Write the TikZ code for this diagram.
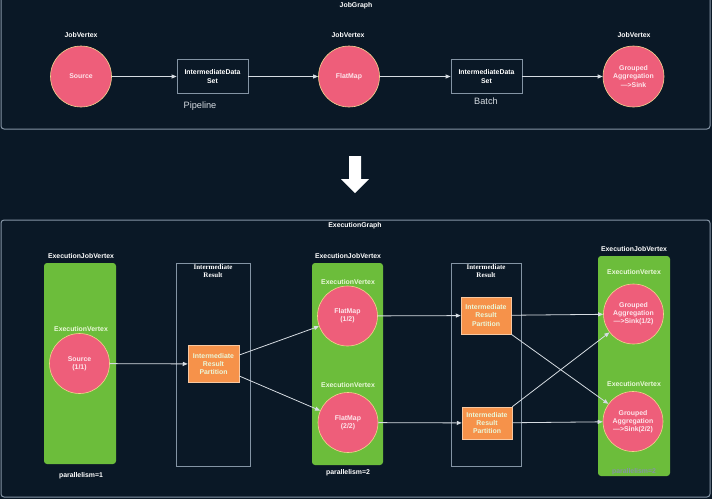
\documentclass[tikz,border=0pt]{standalone}
\usepackage{fontspec}
\setmainfont{Liberation Sans}
\newfontfamily\irfont{Liberation Serif}
\usetikzlibrary{arrows.meta,positioning,calc}
\definecolor{bgc}{HTML}{0A1826}
\definecolor{framec}{HTML}{8494A4}
\definecolor{linec}{HTML}{D6DCE2}
\definecolor{vtxc}{HTML}{EE5E7A}
\definecolor{rimc}{HTML}{F3D48E}
\definecolor{vtxtxt}{HTML}{FDE6EC}
\definecolor{ejvc}{HTML}{6CBD3B}
\definecolor{ejvtxt}{HTML}{EAF8DA}
\definecolor{partc}{HTML}{F6924A}
\definecolor{partrim}{HTML}{F9C8A0}
\newcommand{\lblfont}{\fontsize{6.9}{8.2}\selectfont\bfseries}
\newcommand{\plainfont}{\fontsize{9.2}{11}\selectfont}

\begin{document}
\begin{tikzpicture}[x=1pt,y=-1pt,
  font=\lblfont,
  >={Triangle[length=5pt,width=4pt]},
  lbl/.style={text=white, inner sep=1pt},
  vtx/.style={circle, fill=vtxc, draw=rimc, line width=0.6pt, minimum size=61pt, inner sep=0pt, align=center, text=vtxtxt},
  evtx/.style={vtx, minimum size=60pt},
  dset/.style={draw=framec, line width=0.8pt, minimum width=71pt, minimum height=34pt, inner sep=1pt, align=center, text=white},
  ejv/.style={fill=ejvc, rounded corners=3pt, inner sep=0pt},
  irbox/.style={draw=framec, line width=0.8pt, inner sep=0pt},
  part/.style={fill=partc, draw=partrim, line width=0.5pt, minimum width=51pt, minimum height=37pt, inner sep=0pt, align=center, text=ejvtxt},
  irtitle/.style={font=\irfont\fontsize{7}{8.4}\selectfont\bfseries, text=white, align=center, inner sep=1.5pt},
  flow/.style={draw=linec, line width=0.8pt, ->},
]
\fill[bgc] (0,0) rectangle (712,499);
\useasboundingbox (0,0) rectangle (712,499);
\clip (0,0) rectangle (712,499);
% ---------------- job graph ----------------
\draw[framec, line width=1pt, rounded corners=3pt] (1,-6) rectangle (710,129);
\node[lbl] (jgtitle) at (356,6) {JobGraph};
\node[lbl] (jvlA) at (81,35) {JobVertex};
\node[lbl] (jvlB) at (348,35) {JobVertex};
\node[lbl] (jvlC) at (634,35) {JobVertex};
\node[vtx] (jsrc) at (81,76.5) {Source};
\node[dset] (dsA) at (212.5,76.5) {IntermediateData\\Set};
\node[vtx] (jfm) at (349,76.5) {FlatMap};
\node[dset] (dsB) at (486.5,76.5) {IntermediateData\\Set};
\node[vtx] (jagg) at (633.5,76.5) {Grouped\\Aggregation\\—>Sink};
\node[font=\plainfont, text=linec] (pipe) at (200,106) {Pipeline};
\node[font=\plainfont, text=linec] (batch) at (486,101) {Batch};
\draw[flow] (jsrc) -- (dsA);
\draw[flow] (dsA) -- (jfm);
\draw[flow] (jfm) -- (dsB);
\draw[flow] (dsB) -- (jagg);
% ---------------- transition ----------------
\fill[white] (349,156) -- (361,156) -- (361,179) -- (369,179) -- (355,193) -- (341,179) -- (349,179) -- cycle;
% ---------------- execution graph ----------------
\draw[framec, line width=1pt, rounded corners=3pt] (1,220) rectangle (710,497);
\node[lbl] (egtitle) at (355,226) {ExecutionGraph};
% job vertex 1
\node[ejv, minimum width=72pt, minimum height=201pt] (ejvA) at (80,363.5) {};
\node[lbl] (ejvlA) at (81,256) {ExecutionJobVertex};
\node[lbl, text=ejvtxt] (evlA) at (81,329) {ExecutionVertex};
\node[evtx] (src) at (79.5,363.5) {Source\\(1/1)};
\node[lbl] (parA) at (81,476) {parallelism=1};
% intermediate result 1
\node[irbox, minimum width=74pt, minimum height=203pt] (irA) at (213,364.5) {};
\node[irtitle, anchor=north] (irlA) at (irA.north) {Intermediate\\Result};
\node[part] (partA) at (213.5,364) {Intermediate\\Result\\Partition};
% job vertex 2
\node[ejv, minimum width=71pt, minimum height=202pt] (ejvB) at (347.5,364) {};
\node[lbl] (ejvlB) at (348,256) {ExecutionJobVertex};
\node[lbl, text=ejvtxt] (evlB1) at (348,282) {ExecutionVertex};
\node[evtx] (fmA) at (347.5,316) {FlatMap\\(1/2)};
\node[lbl, text=ejvtxt] (evlB2) at (348,385) {ExecutionVertex};
\node[evtx] (fmB) at (348,422.5) {FlatMap\\(2/2)};
\node[lbl] (parB) at (348,473) {parallelism=2};
% intermediate result 2
\node[irbox, minimum width=70pt, minimum height=203pt] (irB) at (486,364.5) {};
\node[irtitle, anchor=north] (irlB) at (irB.north) {Intermediate\\Result};
\node[part, minimum width=50pt] (partB1) at (486,315.5) {Intermediate\\Result\\Partition};
\node[part, minimum width=50pt, minimum height=32pt] (partB2) at (487,423) {Intermediate\\Result\\Partition};
% job vertex 3
\node[ejv, minimum width=72pt, minimum height=220pt] (ejvC) at (634,366) {};
\node[lbl] (ejvlC) at (634,249) {ExecutionJobVertex};
\node[lbl, text=ejvtxt] (evlC1) at (634,272) {ExecutionVertex};
\node[evtx] (aggA) at (633.5,314) {Grouped\\Aggregation\\—>Sink(1/2)};
\node[lbl, text=ejvtxt] (evlC2) at (634,384) {ExecutionVertex};
\node[evtx] (aggB) at (633,421.5) {Grouped\\Aggregation\\—>Sink(2/2)};
\node[lbl, text=framec] (parC) at (634,472) {parallelism=2};
% ---------------- connectors ----------------
\draw[flow] (src) -- (partA);
\draw[flow] ([yshift=9pt]partA.east) -- (fmA);
\draw[flow] ([yshift=-12pt]partA.east) -- (fmB);
\draw[flow] (fmA) -- (partB1);
\draw[flow] (fmB) -- (partB2);
\draw[flow] (partB1) -- (aggA);
\draw[flow] (partB1.south east) -- (aggB);
\draw[flow] (partB2.north east) -- (aggA);
\draw[flow] (partB2) -- (aggB);
\end{tikzpicture}
\end{document}
